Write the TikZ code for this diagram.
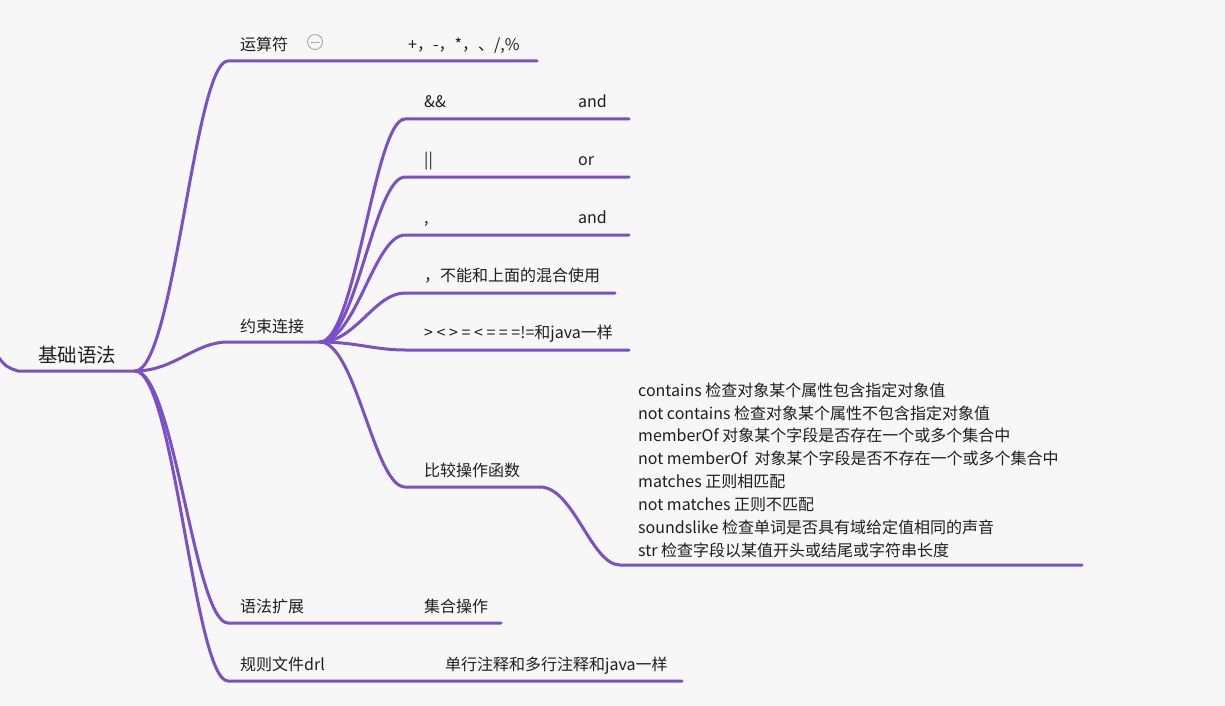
\documentclass[tikz,border=0pt]{standalone}
\usepackage{fontspec}
\setmainfont{Noto Sans CJK SC}
\usetikzlibrary{calc}
\definecolor{bgc}{HTML}{F7F7F7}
\definecolor{linec}{HTML}{7B4FC9}
\definecolor{txtc}{HTML}{1E1E1E}
\definecolor{iconc}{HTML}{A8A8A8}
\tikzset{
  branch/.style={to path={let \p1=(\tikztostart), \p2=(\tikztotarget) in
     .. controls ({\x1+0.42*(\x2-\x1)},\y1) and ({\x1+0.64*(\x2-\x1)},\y2) .. (\tikztotarget)}},
  conn/.style={draw=linec, line width=3pt, line cap=round},
  lbl/.style={anchor=base west, inner sep=0pt, text=txtc, font=\fontsize{16}{19}\selectfont},
  rootlbl/.style={lbl, font=\fontsize{19.5}{23}\selectfont},
}
\begin{document}
\begin{tikzpicture}[x=1pt,y=-1pt]
\fill[bgc] (0,0) rectangle (1225,706);
\useasboundingbox (0,0) rectangle (1225,706);

% coordinates of underlines
\coordinate (rootIn) at (-4,354);
\coordinate (rootS) at (18,371);
\coordinate (rootE) at (135,371);
\coordinate (b1S) at (228,61);  \coordinate (b1E) at (537,61);
\coordinate (b2S) at (228,342); \coordinate (b2E) at (320,342);
\coordinate (b3S) at (228,623); \coordinate (b3E) at (501,623);
\coordinate (b4S) at (228,681); \coordinate (b4E) at (682,681);
\coordinate (c1S) at (405,119); \coordinate (c1E) at (629,119);
\coordinate (c2S) at (405,177); \coordinate (c2E) at (629,177);
\coordinate (c3S) at (405,235); \coordinate (c3E) at (629,235);
\coordinate (c4S) at (405,293); \coordinate (c4E) at (615,293);
\coordinate (c5S) at (405,350); \coordinate (c5E) at (629,350);
\coordinate (c6S) at (405,487); \coordinate (c6E) at (540,487);
\coordinate (dS) at (620,565);  \coordinate (dE) at (1082,565);

% connectors
\draw[conn] (rootIn) .. controls (6,367) .. (rootS) -- (rootE);
\draw[conn] (rootE) to[branch] (b1S) -- (b1E);
\draw[conn] (rootE) to[branch] (b2S) -- (b2E);
\draw[conn] (rootE) to[branch] (b3S) -- (b3E);
\draw[conn] (rootE) to[branch] (b4S) -- (b4E);
\draw[conn] (b2E) to[branch] (c1S) -- (c1E);
\draw[conn] (b2E) to[branch] (c2S) -- (c2E);
\draw[conn] (b2E) to[branch] (c3S) -- (c3E);
\draw[conn] (b2E) to[branch] (c4S) -- (c4E);
\draw[conn] (b2E) to[branch] (c5S) -- (c5E);
\draw[conn] (b2E) to[branch] (c6S) -- (c6E);
\draw[conn] (c6E) to[branch] (dS) -- (dE);

% labels
\node[rootlbl] (root) at (38,362) {基础语法};
\node[lbl] (n1) at (240,51) {运算符};
\node[lbl] (v1) at (408,51) {+，-，*，、/,\%};
\node[lbl] (n2) at (240,332) {约束连接};
\node[lbl] (n3) at (240,612) {语法扩展};
\node[lbl] (v3) at (424,612) {集合操作};
\node[lbl] (n4) at (240,670) {规则文件drl};
\node[lbl] (v4) at (445,670) {单行注释和多行注释和java一样};

\node[lbl] (k1) at (424,107) {\&\&};
\node[lbl] (w1) at (578,107) {and};
\node[lbl] (k2) at (424,165) {||};
\node[lbl] (w2) at (578,165) {or};
\node[lbl] (k3) at (424,223) {,};
\node[lbl] (w3) at (578,223) {and};
\node[lbl] (k4) at (424,281) {，不能和上面的混合使用};
\node[lbl] (k5) at (424,338) {> < > = < = = =!=和java一样};
\node[lbl] (k6) at (424,476) {比较操作函数};

\node[lbl, anchor=south west, align=left, font=\fontsize{16}{22.9}\selectfont] (fn) at (638,558)
 {contains 检查对象某个属性包含指定对象值\\
  not contains 检查对象某个属性不包含指定对象值\\
  memberOf 对象某个字段是否存在一个或多个集合中\\
  not memberOf\ \ 对象某个字段是否不存在一个或多个集合中\\
  matches 正则相匹配\\
  not matches 正则不匹配\\
  soundslike 检查单词是否具有域给定值相同的声音\\
  str 检查字段以某值开头或结尾或字符串长度};

% collapse icon
\node[circle, draw=iconc, line width=0.9pt, minimum size=15pt, inner sep=0pt, fill=bgc] (icon) at (315,42) {};
\draw[iconc, line width=0.9pt] ($(icon.center)+(-4.5,0)$) -- ($(icon.center)+(4.5,0)$);
\end{tikzpicture}
\end{document}
